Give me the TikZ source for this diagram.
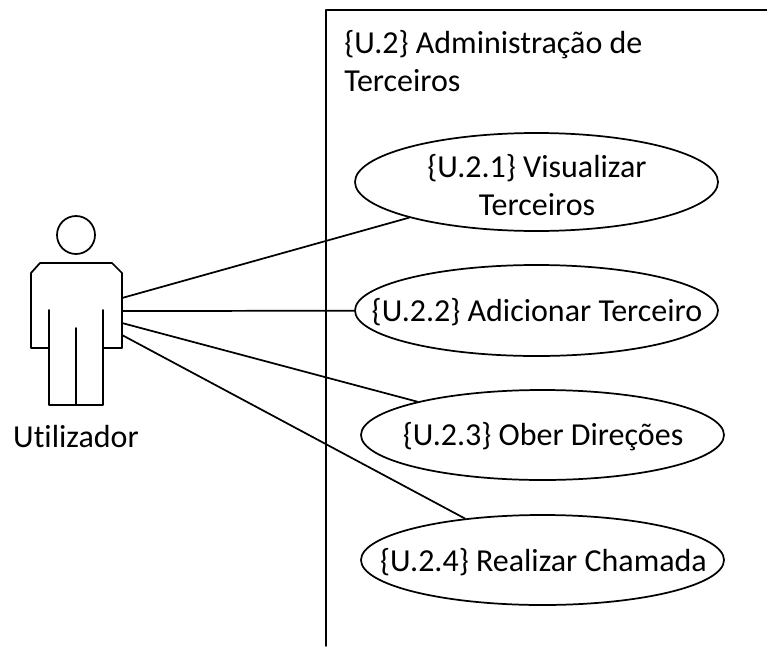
\documentclass[tikz,border=0pt]{standalone}
\usepackage{fontspec}
\setmainfont[Ligatures=NoCommon]{Carlito}
\usetikzlibrary{shapes.geometric}
\tikzset{
 uc/.style={draw,ellipse,line width=1.3pt,inner sep=0pt,minimum width=363pt*0.75},
 lbl/.style={inner sep=0pt,align=center,font=\fontsize{24}{28.5}\selectfont},
 ln/.style={draw,line width=1.3pt,line cap=round,line join=round},
 txt/.style={inner sep=0pt,align=left,font=\fontsize{24}{28.5}\selectfont}
}
\begin{document}
\begin{tikzpicture}[x=1pt,y=-1pt,xscale=0.75,yscale=0.75]
\useasboundingbox (0,0) rectangle (767,646);
\path[fill=white] (0,0) rectangle (767,646);
\coordinate (bt) at (326,646);
\coordinate (bl) at (326,10);
\coordinate (br) at (767,10);
\draw[ln] (bt) -- (bl) -- (br);
\node[txt,anchor=north west] (title) at (344,30) {\{U.2\} Administração de\\Terceiros};
\node[uc,minimum height=98pt*0.75] (u1) at (536.5,182) {};
\node[lbl] (t1) at (537,185) {\{U.2.1\} Visualizar\\Terceiros};
\node[uc,minimum height=91pt*0.75] (u2) at (536.5,310.5) {};
\node[lbl] (t2) at (537,312) {\{U.2.2\} Adicionar Terceiro};
\node[uc,minimum height=90pt*0.75] (u3) at (542.5,435) {};
\node[lbl] (t3) at (543,437) {\{U.2.3\} Ober Direções};
\node[uc,minimum height=90pt*0.75] (u4) at (542.5,560) {};
\node[lbl] (t4) at (543.5,562) {\{U.2.4\} Realizar Chamada};
\node[draw,circle,line width=1.3pt,minimum size=38pt*0.75,inner sep=0pt] (head) at (76,235) {};
\coordinate (a1) at (122,298);
\coordinate (a2) at (122,311);
\coordinate (a3) at (122,323);
\coordinate (a4) at (122,335);
\draw[ln] (40,263) -- (112,263) -- (122,273) -- (122,348) -- (103,348) -- (103,405) -- (49,405) -- (49,348) -- (31,348) -- (31,273) -- cycle;
\draw[ln] (49,310) -- (49,348);
\draw[ln] (103,310) -- (103,348);
\draw[ln] (76,328) -- (76,405);
\node[txt,anchor=center] (actor) at (76,437) {Utilizador};
\draw[ln] (a1) -- (u1);
\draw[ln] (a2) -- (u2);
\draw[ln] (a3) -- (u3);
\draw[ln] (a4) -- (u4);
\end{tikzpicture}
\end{document}
